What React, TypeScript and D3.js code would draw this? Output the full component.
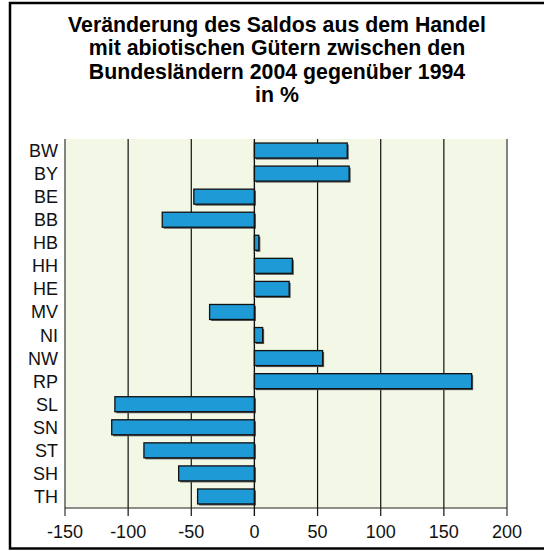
import React from 'react'
import * as d3 from 'd3'

// Kategorien (Bundesländer) und Werte in %
const laender = ['BW', 'BY', 'BE', 'BB', 'HB', 'HH', 'HE', 'MV', 'NI', 'NW', 'RP', 'SL', 'SN', 'ST', 'SH', 'TH']
const veraenderung = [73.5, 75, -48, -73, 3.5, 30, 27.5, -35.5, 6.5, 54, 172, -110.5, -113, -87.5, -60, -45]
const xTicks = [-150, -100, -50, 0, 50, 100, 150, 200]
const titel = [
  'Veränderung des Saldos aus dem Handel',
  'mit abiotischen Gütern zwischen den',
  'Bundesländern 2004 gegenüber 1994',
  'in %',
]

export default function App() {
  const width = 544
  const height = 551
  const margin = { top: 139, right: 37, bottom: 43, left: 65 }

  const data = laender.map((land, i) => ({ land, wert: veraenderung[i] }))

  const x = d3.scaleLinear()
    .domain([-150, 200])
    .range([margin.left, width - margin.right])

  const y = d3.scaleBand()
    .domain(laender)
    .range([margin.top, height - margin.bottom])
    .paddingInner(0.35)
    .paddingOuter(0.175)

  const font = 'Arial, "Liberation Sans", Helvetica, sans-serif'
  const plotBottom = height - margin.bottom

  return (
    <svg width={width} height={height} style={{ position: 'absolute', left: 0, top: 0 }}>
      <rect x={0} y={0} width={width} height={height} fill="#fff" />
      {/* Rahmen, rechte Kante liegt außerhalb des Bildes */}
      <rect x={10} y={3} width={550} height={545.5} fill="none" stroke="#000" strokeWidth={2.5} />

      {/* Titel */}
      <text x={277} y={32} textAnchor="middle" fontFamily={font} fontWeight="bold" fontSize={21.3} fill="#000">
        {titel.map((t, i) => (
          <tspan key={i} x={277} dy={i === 0 ? 0 : 23.3}>{t}</tspan>
        ))}
      </text>

      {/* Plotfläche */}
      <rect x={x(-150)} y={margin.top} width={x(200) - x(-150)} height={plotBottom - margin.top} fill="#f3f7e6" />

      {/* Gitterlinien */}
      {xTicks.map(t => (
        <line key={t} x1={x(t)} x2={x(t)} y1={margin.top} y2={plotBottom + 8}
          stroke={t === -150 || t === 200 ? '#666' : '#111'} strokeWidth={t === -150 || t === 200 ? 1.6 : 1.2} />
      ))}
      <line x1={x(-150)} x2={x(200)} y1={plotBottom} y2={plotBottom} stroke="#222" strokeWidth={1.2} />

      {/* Balken */}
      {data.map(d => {
        const x0 = x(Math.min(0, d.wert))
        const w = Math.abs(x(d.wert) - x(0))
        return (
          <g key={d.land}>
            <rect x={x0 + 1.5} y={y(d.land)! + 1.5} width={w} height={y.bandwidth()} fill="#555" />
            <rect x={x0} y={y(d.land)} width={w} height={y.bandwidth()} fill="#1e9ad6" stroke="#111" strokeWidth={1.3} />
          </g>
        )
      })}
      <line x1={x(0)} x2={x(0)} y1={margin.top} y2={plotBottom + 8} stroke="#111" strokeWidth={1.2} />

      {/* Kategorien */}
      {laender.map(l => (
        <text key={l} x={58} y={y(l)! + y.bandwidth() / 2} dy="0.36em" textAnchor="end"
          fontFamily={font} fontSize={18} fill="#111">{l}</text>
      ))}

      {/* Achsenbeschriftung */}
      {xTicks.map(t => (
        <text key={t} x={x(t)} y={538} textAnchor="middle" fontFamily={font} fontSize={18} fill="#111">{t}</text>
      ))}
    </svg>
  )
}
